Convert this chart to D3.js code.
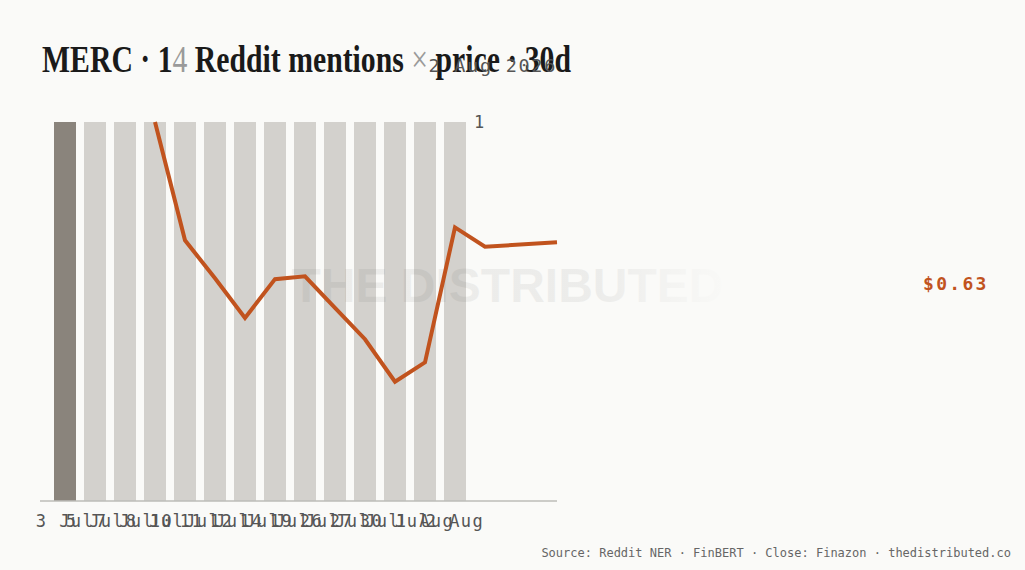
<!DOCTYPE html>
<html>
<head>
<meta charset="utf-8">
<script src="https://cdn.jsdelivr.net/npm/d3@7"></script>
<style>
  html, body { margin: 0; padding: 0; background: #fafaf8; }
  svg { display: block; }
</style>
</head>
<body>
<svg id="chart" width="1025" height="570"></svg>
<script>
// ---- data ----
const dates = ["3 Jul","5 Jul","7 Jul","8 Jul","10 Jul","11 Jul","12 Jul","14 Jul","19 Jul","26 Jul","27 Jul","30 Jul","1 Aug","2 Aug"];
const mentions = [1,1,1,1,1,1,1,1,1,1,1,1,1,1];
const highlighted = ["3 Jul"];
const priceStart = "8 Jul";
const priceClose = [0.76,0.632,0.591,0.548,0.590,0.593,0.559,0.525,0.479,0.500,0.646,0.625,0.63];
const priceDomain = [0.35, 0.76];
const mentionTicks = [1];
const titleParts = [["MERC · 1", false], ["4", true], [" Reddit mentions ", false], ["×", true], [" price · 30d", false]];
const dateLabel = "2 Aug 2026";
const lastLabel = "$0.63";
const footer = "Source: Reddit NER · FinBERT · Close: Finazon · thedistributed.co";
const watermark = "THE DISTRIBUTED";

// ---- layout ----
const W = 1025, H = 570;
const plot = { left: 40, right: 557, top: 122, bottom: 501 };
const mono = "'DejaVu Sans Mono', 'Liberation Mono', monospace";
const ORANGE = "#c1531e";

const svg = d3.select("#chart");
svg.append("rect").attr("width", W).attr("height", H).attr("fill", "#fafaf8");

const x = d3.scaleBand().domain(dates).range([50, 470]).paddingInner(8/30).paddingOuter(4/30);
const yBar = d3.scaleLinear().domain([0, 1]).range([plot.bottom, plot.top]);
const yPrice = d3.scaleLinear().domain(priceDomain).range([plot.bottom, plot.top]);
const bw = x.bandwidth();
const xIdx = d3.scaleLinear().domain([0, dates.length - 1])
  .range([x(dates[0]) + bw / 2, x(dates[dates.length - 1]) + bw / 2]);

// bars
svg.append("g").selectAll("rect").data(dates).join("rect")
  .attr("x", d => x(d))
  .attr("width", bw)
  .attr("y", (d, i) => yBar(mentions[i]))
  .attr("height", (d, i) => yBar(0) - yBar(mentions[i]))
  .attr("fill", d => highlighted.includes(d) ? "#8a847c" : "#d3d1cd");

// watermark
const defs = svg.append("defs");
const grad = defs.append("linearGradient").attr("id", "wmfade")
  .attr("gradientUnits", "userSpaceOnUse").attr("x1", 600).attr("x2", 735).attr("y1", 0).attr("y2", 0);
grad.append("stop").attr("offset", 0).attr("stop-color", "#000").attr("stop-opacity", 0.055);
grad.append("stop").attr("offset", 1).attr("stop-color", "#000").attr("stop-opacity", 0);
svg.append("text").attr("x", W / 2 - 5).attr("y", 302).attr("text-anchor", "middle")
  .attr("font-family", "'Liberation Sans', Arial, sans-serif").attr("font-weight", "bold")
  .attr("font-size", 48).attr("fill", "url(#wmfade)").text(watermark);

// baseline
svg.append("line").attr("x1", plot.left).attr("x2", plot.right)
  .attr("y1", plot.bottom).attr("y2", plot.bottom)
  .attr("stroke", "#bdbcb8").attr("stroke-width", 1.5);

// x axis
const xAxis = svg.append("g").attr("transform", `translate(0,${plot.bottom})`)
  .call(d3.axisBottom(x).tickSize(0).tickPadding(14));
xAxis.select(".domain").remove();
xAxis.selectAll("text").attr("font-family", mono).attr("font-size", 17)
  .attr("letter-spacing", 1.5).attr("fill", "#555");

// right tick
const yAxis = svg.append("g").attr("transform", `translate(470,0)`)
  .call(d3.axisRight(yBar).tickValues(mentionTicks).tickSize(0).tickPadding(4).tickFormat(d3.format("d")));
yAxis.select(".domain").remove();
yAxis.selectAll("text").attr("font-family", mono).attr("font-size", 17).attr("fill", "#555");

// price line
const s0 = dates.indexOf(priceStart);
const pts = priceClose.map((v, i) => [
  i === priceClose.length - 1 ? plot.right : xIdx(s0 + i),
  yPrice(v)
]);
svg.append("path").attr("d", d3.line()(pts))
  .attr("fill", "none").attr("stroke", ORANGE).attr("stroke-width", 4);

// last price label
svg.append("text").attr("x", 923).attr("y", 290)
  .attr("font-family", mono).attr("font-size", 18).attr("font-weight", "bold")
  .attr("letter-spacing", 2.3).attr("fill", ORANGE).text(lastLabel);

// title
const title = svg.append("text").attr("x", 42).attr("y", 72)
  .attr("font-family", "'Liberation Serif', 'DejaVu Serif', serif").attr("font-weight", "bold")
  .attr("font-size", 37).attr("fill", "#1a1a1a")
  .attr("textLength", 529).attr("lengthAdjust", "spacingAndGlyphs");
titleParts.forEach(([t, light]) => {
  const ts = title.append("tspan").text(t);
  if (light) ts.attr("font-weight", "normal").attr("fill", "#9a9a9a");
});

// date
svg.append("text").attr("x", 557).attr("y", 72).attr("text-anchor", "end")
  .attr("font-family", mono).attr("font-size", 18.5).attr("letter-spacing", 1.7)
  .attr("fill", "#555").text(dateLabel);

// footer
svg.append("text").attr("x", 1011).attr("y", 557).attr("text-anchor", "end")
  .attr("font-family", mono).attr("font-size", 12).attr("fill", "#666").text(footer);
</script>
</body>
</html>
